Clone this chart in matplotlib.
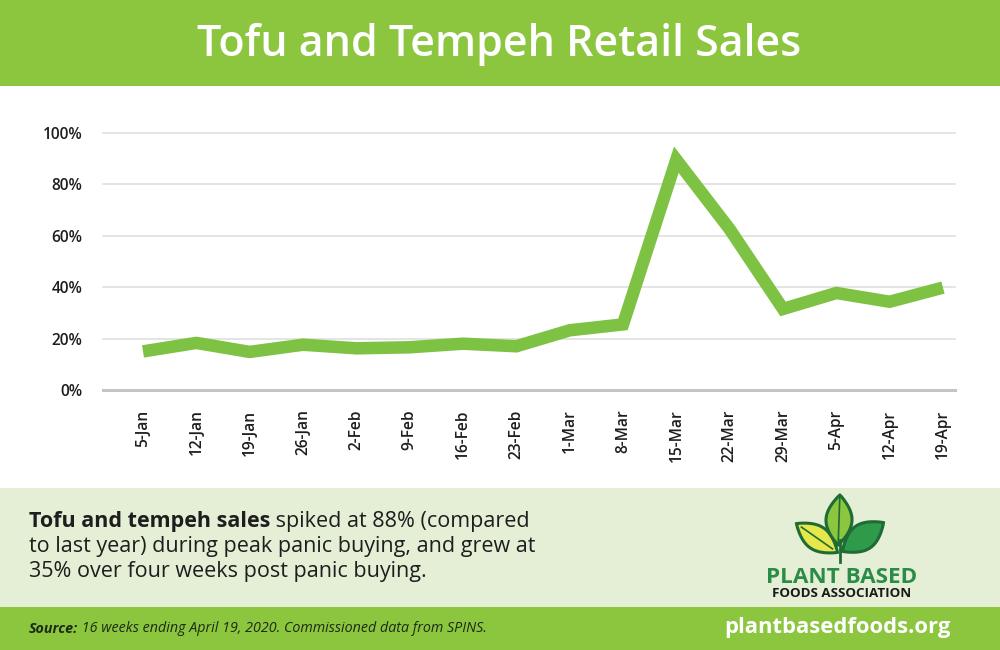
import numpy as np
import matplotlib
matplotlib.use("Agg")
import matplotlib.pyplot as plt
from matplotlib.patches import Polygon, Rectangle

plt.rcParams['font.family'] = ['Open Sans', 'DejaVu Sans']

weeks = ["5-Jan", "12-Jan", "19-Jan", "26-Jan", "2-Feb", "9-Feb", "16-Feb", "23-Feb",
         "1-Mar", "8-Mar", "15-Mar", "22-Mar", "29-Mar", "5-Apr", "12-Apr", "19-Apr"]
sales_growth = [15, 18.3, 14.8, 17.6, 16.2, 16.6, 18.0, 17.0,
                23.2, 25.5, 89.5, 62.5, 31.5, 37.7, 34.3, 39.8]
y_ticks = [0, 20, 40, 60, 80, 100]
y_tick_labels = ["0%", "20%", "40%", "60%", "80%", "100%"]

title = "Tofu and Tempeh Retail Sales"
note_bold = "Tofu and tempeh sales"
note_lines = [" spiked at 88% (compared",
              "to last year) during peak panic buying, and grew at",
              "35% over four weeks post panic buying."]
source_bold = "Source:"
source_text = " 16 weeks ending April 19, 2020. Commissioned data from SPINS."
website = "plantbasedfoods.org"

GREEN = "#8cc63f"
LINE_GREEN = "#7dc242"
PANEL = "#e4efd6"
DARK = "#1e1e1e"

W, H = 1000, 650
fig = plt.figure(figsize=(W / 100, H / 100), dpi=100)
fig.patch.set_facecolor("white")

# background / decoration axes in pixel coords
bg = fig.add_axes([0, 0, 1, 1])
bg.set_xlim(0, W)
bg.set_ylim(H, 0)
bg.axis("off")
bg.add_patch(Rectangle((0, 0), W, 86, color=GREEN, lw=0))
bg.add_patch(Rectangle((0, 488), W, 120, color=PANEL, lw=0))
bg.add_patch(Rectangle((0, 607), W, 43, color=GREEN, lw=0))

bg.text(499, 56, title, color="white", fontsize=31, fontweight="semibold",
        ha="center", va="baseline")

# note paragraph
NS = 15.5
t0 = bg.text(29, 527, note_bold, fontsize=NS, fontweight="bold", color=DARK,
             va="baseline", ha="left")
bg.annotate(note_lines[0], xy=(1, 0), xycoords=t0, fontsize=NS, color=DARK,
            va="bottom", ha="left")
bg.text(29, 552, note_lines[1], fontsize=NS, color=DARK, va="baseline", ha="left")
bg.text(29, 577, note_lines[2], fontsize=NS, color=DARK, va="baseline", ha="left")

# source line
s0 = bg.text(29, 629, source_bold, fontsize=10.3, fontweight="bold", style="italic",
             color="#1c2a14", va="center", ha="left")
bg.annotate(source_text, xy=(1, 0), xycoords=s0, fontsize=10.3, style="italic",
            color="#1c2a14", va="bottom", ha="left")
bg.text(951, 628, website, fontsize=15.8, fontweight="bold", color="white",
        va="center", ha="right")


# logo
def leaf(cx, cy, length, width, angle_deg, n=60):
    t = np.linspace(0, 1, n)
    u = (t - 0.5) * length
    v = 0.5 * width * np.sin(np.pi * t) ** 0.9
    xs = np.concatenate([u, u[::-1]])
    ys = np.concatenate([v, -v[::-1]])
    a = np.deg2rad(angle_deg)
    X = cx + xs * np.cos(a) - ys * np.sin(a)
    Y = cy + xs * np.sin(a) + ys * np.cos(a)
    return np.column_stack([X, Y]), (a, cx, cy, length)


OUT = "#1f6b35"
pts, info = leaf(817, 538, 50, 24, 35)
bg.add_patch(Polygon(pts, closed=True, fc="#e6e74a", ec=OUT, lw=2.2))
a, cx, cy, L = info
bg.plot([cx - 0.38 * L * np.cos(a), cx + 0.38 * L * np.cos(a)],
        [cy - 0.38 * L * np.sin(a), cy + 0.38 * L * np.sin(a)], color=OUT, lw=1.2)
pts, info = leaf(839, 520, 50, 26, -88)
bg.add_patch(Polygon(pts, closed=True, fc="#8cc63f", ec=OUT, lw=2.2))
a, cx, cy, L = info
bg.plot([cx - 0.45 * L * np.cos(a), cx + 0.45 * L * np.cos(a)],
        [cy - 0.45 * L * np.sin(a), cy + 0.45 * L * np.sin(a)], color=OUT, lw=1.2)
pts, info = leaf(863, 537, 50, 26, -35)
bg.add_patch(Polygon(pts, closed=True, fc="#2f9b4a", ec=OUT, lw=2.2))
bg.plot([840, 840], [540, 562], color=OUT, lw=2)
bg.text(842, 583, "PLANT BASED", fontsize=16.2, fontweight="bold", color="#2b8c48",
        ha="center", va="baseline")
bg.text(842, 597, "FOODS ASSOCIATION", fontsize=9.6, fontweight="bold", color="#1a1a1a",
        ha="center", va="baseline")

# chart axes
ax_left, ax_right = 103, 955
y0_px, y100_px = 390, 132.7
ax = fig.add_axes([ax_left / W, (H - y0_px) / H, (ax_right - ax_left) / W,
                   (y0_px - y100_px) / H])
ax.set_facecolor("none")
x = np.arange(len(weeks))
ax.plot(x, sales_growth, color=LINE_GREEN, lw=9, solid_joinstyle="miter",
        solid_capstyle="butt", clip_on=False, zorder=3)
ax.set_xlim(-0.75, 15.225)
ax.set_ylim(0, 100)
ax.set_yticks(y_ticks)
ax.set_yticklabels(y_tick_labels)
ax.set_xticks(x)
ax.set_xticklabels(weeks, rotation=90)
for yt in y_ticks[1:]:
    ax.axhline(yt, color="#dcdcdc", lw=1.1, zorder=1, clip_on=False)
ax.axhline(0, color="#c4c4c4", lw=2.2, zorder=2, clip_on=False)
for s in ax.spines.values():
    s.set_visible(False)
ax.tick_params(axis="both", length=0, colors=DARK, labelsize=11.2)
ax.tick_params(axis="y", pad=15)
ax.tick_params(axis="x", pad=14)
for lab in ax.get_xticklabels() + ax.get_yticklabels():
    lab.set_fontweight("semibold")

fig.savefig("out.png", dpi=100)
